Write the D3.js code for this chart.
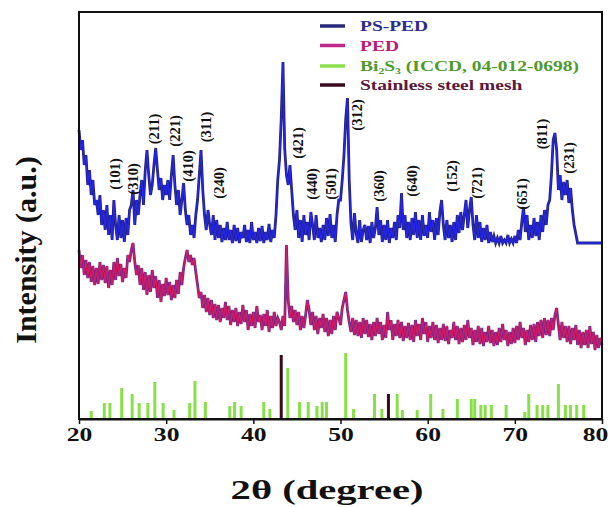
<!DOCTYPE html>
<html>
<head>
<meta charset="utf-8">
<script src="https://cdn.jsdelivr.net/npm/d3@7"></script>
<style>
  body { margin: 0; background: #fff; }
  svg { display: block; }
  text { font-family: "Liberation Serif", "Times New Roman", serif; font-weight: bold; }
</style>
</head>
<body>
<svg id="chart" width="612" height="507"></svg>
<script>
// scan grid: 20..80 deg, 0.2 deg step
const scanStart = 20, scanStep = 0.2;

// PS-PED intensity (a.u.), one value per step
const psPed = [
  289,269,279,254,264, 234,249,224,239,214, 219,204,224,194,209, 189,214,184,204,179,
  219,194,179,204,181, 199,177,201,184,209, 214,229,194,219,204, 224,239,214,249,269,
  244,224,234,254,271, 249,229,241,219,234, 224,239,219,244,264, 234,214,229,204,219,
  236,209,194,204,184, 194,181,204,219,244, 269,229,204,189,209, 194,184,204,179,199,
  181,194,177,191,179, 197,179,189,176,194, 178,191,176,187,181, 194,177,189,176,197,
  179,187,176,191,178, 193,176,187,179,195, 177,189,181,204,239, 259,300,357,270,244,
  234,254,229,204,189, 209,181,199,177,204, 184,197,179,207,194, 179,204,181,191,177,
  194,179,201,183,205, 181,194,177,204,219, 219,239,264,300,321, 239,196,179,206,186,
  176,199,177,189,194, 179,193,176,197,181, 191,212,184,199,177, 194,179,199,176,191,
  181,197,179,204,191, 226,189,204,181,197, 179,201,184,207,181, 199,179,204,183,194,
  181,207,187,199,179, 201,184,207,219,194, 179,199,181,194,177, 197,179,204,186,207,
  189,204,219,191,209, 222,194,179,204,181, 197,177,191,179,194, 176,187,177,183,176,
  181,176,183,176,179, 176,184,176,180,176, 183,176,189,179,197, 212,187,204,179,194,
  181,201,183,197,179, 204,187,209,194,214, 219,244,279,286,269, 229,244,219,237,224,
  239,216,231,209,194, 185,176,176,176,176, 176,176,176,176,176, 176,176,176,176,176,
  176
];

// PED intensity (a.u.)
const ped = [
  169,151,164,144,159, 141,157,137,153,134, 151,135,157,139,154, 136,153,131,149,134,
  157,139,161,143,155, 137,151,141,164,157, 169,176,157,144,154, 134,151,129,147,124,
  144,127,149,131,143, 121,139,117,135,123, 141,124,137,119,134, 121,139,125,147,134,
  151,161,169,157,164, 154,161,147,134,121, 127,111,124,107,121, 104,119,101,115,99,
  114,97,111,101,117, 99,113,94,109,97, 111,93,107,95,114, 97,109,89,105,93,
  107,91,113,97,104, 89,105,93,109,87, 103,91,107,93,101, 97,89,103,93,174,
  119,101,113,97,109, 94,107,89,103,91, 104,119,109,94,107, 89,103,85,101,91,
  105,87,101,83,99, 85,103,89,107,101, 94,111,119,127,109, 97,87,101,84,99,
  83,97,81,101,85, 99,82,95,79,97, 83,101,85,97,79, 94,81,107,89,99,
  79,95,83,99,81, 97,78,93,81,96, 79,94,77,99,83, 95,79,101,85,97,
  77,93,81,97,79, 94,76,91,79,95, 78,93,75,89,81, 97,79,93,75,91,
  77,94,79,99,81, 91,74,89,77,93, 75,91,73,87,77, 93,76,89,73,87,
  74,91,77,95,79, 89,73,87,75,91, 76,93,79,97,81, 91,74,89,77,94,
  79,95,77,97,83, 99,81,101,84,99, 83,101,89,104,111, 94,79,97,81,93,
  77,93,75,91,79, 94,74,89,71,87, 74,89,71,93,75, 87,69,84,71,81,
  74
];

// Bi2S3 reference pattern (ICCD 04-012-0698)
const bi2s3Pos = [21.4, 22.9, 23.55, 24.9, 26.1, 26.9, 27.9, 28.7, 29.65, 30.9,
  32.7, 33.3, 34.5, 37.3, 37.85, 38.6, 41.2, 41.9, 43.95, 45.3,
  46.3, 47.3, 47.9, 48.4, 50.6, 51.5, 53.9, 54.75, 56.5, 57.1,
  58.8, 60.35, 61.75, 63.4, 65.0, 65.4, 66.1, 66.6, 67.3, 69.0,
  71.15, 71.6, 72.55, 73.2, 73.8, 75.0, 75.8, 76.4, 77.1, 77.9];
const bi2s3Int = [8, 16, 16, 31, 25, 16, 16, 37, 16, 9,
  16, 38, 17, 13, 17, 13, 17, 10, 51, 17,
  17, 13, 17, 17, 66, 10, 25, 10, 25, 9,
  9, 25, 10, 20, 20, 20, 14, 14, 14, 14,
  7, 25, 14, 14, 14, 35, 14, 14, 14, 14];

// stainless steel mesh
const steelPos = [43.2, 55.5];
const steelInt = [64, 25];

// hkl labels: position, height of label centre
const hklText = ['(101)', '(310)', '(211)', '(221)', '(410)', '(311)', '(240)', '(421)', '(440)',
  '(501)', '(312)', '(360)', '(640)', '(152)', '(721)', '(651)', '(811)', '(231)'];
const hklPos = [24.1, 26.2, 28.6, 31.0, 32.5, 34.6, 36.1, 45.1, 46.7,
  48.9, 51.9, 54.4, 58.2, 62.8, 65.65, 70.8, 73.1, 76.2];
const hklInt = [245, 240, 290, 288, 253, 292, 236, 276, 235,
  235, 304, 233, 238, 243, 236, 225, 285, 261];

const xTicks = [20, 30, 40, 50, 60, 70, 80];

const legendNames = ['PS-PED', 'PED', 'Bi2S3', 'Stainless steel mesh'];
const legendLine = ['#2a2a7c', '#c0288a', '#8ae04a', '#3a0a1e'];
const legendText = ['#2c2c8e', '#b81a78', '#4e9a2c', '#5a1a3c'];

let svg = d3.select('#chart');

let x = d3.scaleLinear().domain([20, 80]).range([79, 602]);
let y = d3.scaleLinear().domain([0, 407]).range([419, 12]);

const toPts = arr => arr.map((v, i) => [scanStart + i * scanStep, v]);

let line = d3.line()
  .x(d => x(d[0]))
  .y(d => y(d[1]));

// curves, dark edge under a brighter core
svg.append('path').datum(toPts(ped))
  .attr('d', line).attr('fill', 'none')
  .attr('stroke', '#6a2a88').attr('stroke-width', 2.8)
  .attr('stroke-linejoin', 'miter');
svg.append('path').datum(toPts(ped))
  .attr('d', line).attr('fill', 'none')
  .attr('stroke', '#d41a66').attr('stroke-width', 1.3);

svg.append('path').datum(toPts(psPed))
  .attr('d', line).attr('fill', 'none')
  .attr('stroke', '#22227a').attr('stroke-width', 2.8)
  .attr('stroke-linejoin', 'miter');
svg.append('path').datum(toPts(psPed))
  .attr('d', line).attr('fill', 'none')
  .attr('stroke', '#2626ea').attr('stroke-width', 1.3);

// stick patterns
svg.append('g').selectAll('line')
  .data(bi2s3Pos)
  .join('line')
  .attr('x1', d => x(d)).attr('x2', d => x(d))
  .attr('y1', y(0)).attr('y2', (d, i) => y(bi2s3Int[i]))
  .attr('stroke', '#88e048').attr('stroke-width', 3);

svg.append('g').selectAll('line')
  .data(steelPos)
  .join('line')
  .attr('x1', d => x(d)).attr('x2', d => x(d))
  .attr('y1', y(0)).attr('y2', (d, i) => y(steelInt[i]))
  .attr('stroke', '#3a0a1e').attr('stroke-width', 3);

// hkl labels
svg.append('g').selectAll('text')
  .data(hklText)
  .join('text')
  .attr('transform', (d, i) => 'translate(' + (x(hklPos[i]) + 5) + ',' + y(hklInt[i]) + ') rotate(-90)')
  .attr('text-anchor', 'middle')
  .style('font-size', '14.5px')
  .attr('fill', '#111')
  .text(d => d);

// frame
svg.append('rect')
  .attr('x', x(20)).attr('y', y(407))
  .attr('width', x(80) - x(20)).attr('height', y(0) - y(407))
  .attr('fill', 'none').attr('stroke', '#111').attr('stroke-width', 2);

// x axis
let xAxis = svg.append('g')
  .attr('transform', 'translate(0,' + y(0) + ')')
  .call(d3.axisBottom(x).tickValues(xTicks).tickSize(5).tickSizeOuter(0).tickPadding(4));
xAxis.select('.domain').attr('stroke', '#111').attr('stroke-width', 2);
xAxis.selectAll('.tick line').attr('stroke', '#111').attr('stroke-width', 1.5);
xAxis.selectAll('.tick text')
  .attr('fill', '#111')
  .style('font-size', '19px')
  .style('font-family', '"Liberation Serif", serif')
  .attr('transform', d => (d === 80 ? 'translate(-7,0) ' : '') + 'scale(1.35,1)');

// axis titles
svg.append('text')
  .attr('transform', 'translate(327,499) scale(1.45,1)')
  .attr('text-anchor', 'middle')
  .style('font-size', '28px')
  .attr('fill', '#111')
  .text('2θ (degree)');

svg.append('text')
  .attr('transform', 'translate(36,250) rotate(-90)')
  .attr('text-anchor', 'middle')
  .style('font-size', '30px')
  .attr('fill', '#111')
  .text('Intensity (a.u.)');

// legend
let legend = svg.append('g').attr('class', 'legend');
const rowY = [26, 45.5, 66, 85];
legendNames.forEach((name, i) => {
  legend.append('line')
    .attr('x1', 320).attr('x2', 345)
    .attr('y1', rowY[i]).attr('y2', rowY[i])
    .attr('stroke', legendLine[i]).attr('stroke-width', 3.5);
  let t = legend.append('text')
    .attr('transform', 'translate(360,' + (rowY[i] + 5) + ') scale(1.3,1)')
    .style('font-size', '15px')
    .attr('fill', legendText[i]);
  if (name === 'Bi2S3') {
    t.append('tspan').text('Bi');
    t.append('tspan').attr('dy', 3).style('font-size', '9px').text('2');
    t.append('tspan').attr('dy', -3).text('S');
    t.append('tspan').attr('dy', 3).style('font-size', '9px').text('3');
    t.append('tspan').attr('dy', -3).text(' (ICCD, 04-012-0698)');
  } else {
    t.text(name);
  }
});
</script>
</body>
</html>
